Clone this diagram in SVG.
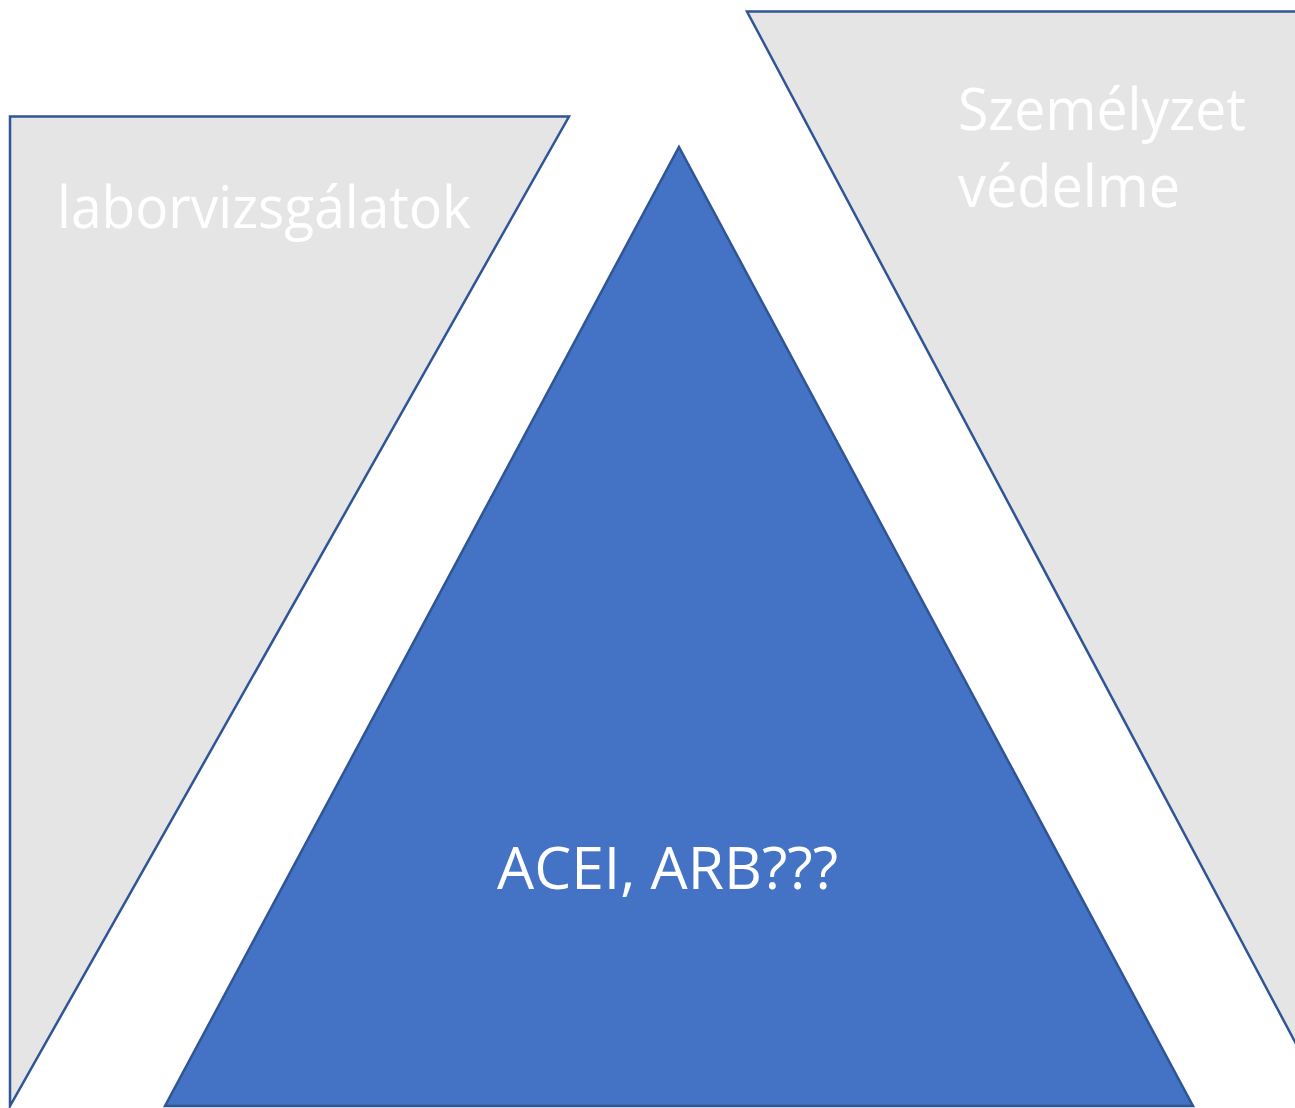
<svg xmlns="http://www.w3.org/2000/svg" width="1295" height="1108" viewBox="0 0 1295 1108">
<style>
.gray{fill:#E5E5E5;stroke:#2F5597;stroke-width:2.5;stroke-linejoin:miter}
.blue{fill:#4472C4;stroke:#2F5597;stroke-width:2.5;stroke-linejoin:miter}
.t{fill:#FFFFFF;font-family:"Open Sans","Liberation Sans",sans-serif;font-size:58px}
</style>
<rect width="1295" height="1108" fill="#FFFFFF"/>
<g id="left">
<polygon class="gray" points="10,116.5 569,116.5 10,1106"/>
<text class="t" x="57" y="228" textLength="414" lengthAdjust="spacingAndGlyphs">laborvizsgálatok</text>
</g>
<g id="right">
<polygon class="gray" points="747,11.5 1310,11.5 1310,1070"/>
<text class="t" x="958" y="130" textLength="288" lengthAdjust="spacingAndGlyphs">Személyzet</text>
<text class="t" x="958" y="207" textLength="222" lengthAdjust="spacingAndGlyphs">védelme</text>
</g>
<g id="center">
<polygon class="blue" points="679,147 1193,1106 165,1106"/>
<text class="t" x="497" y="889" textLength="341" lengthAdjust="spacingAndGlyphs">ACEI, ARB???</text>
</g>
<g id="connectors"></g>
</svg>
